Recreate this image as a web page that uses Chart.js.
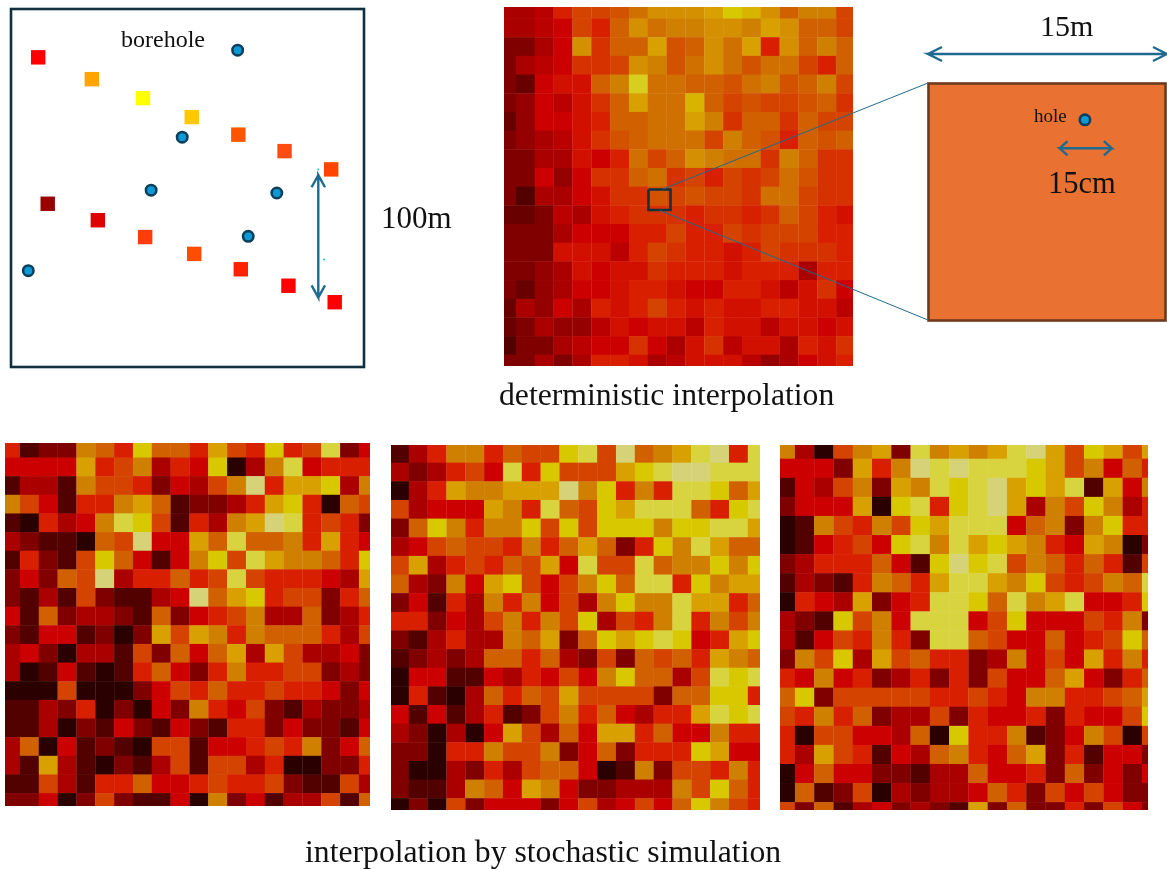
<!DOCTYPE html>
<html>
<head>
<meta charset="utf-8">
<style>
html,body{margin:0;padding:0;background:#fff;width:1167px;height:869px;overflow:hidden}
.c{position:absolute}
.t{position:absolute;font-family:"Liberation Serif",serif;line-height:1;white-space:nowrap;color:#111;z-index:5}
</style>
<script src="https://cdn.jsdelivr.net/npm/chart.js@4"></script>
</head>
<body>
<div class="t" style="left:121px;top:27px;font-size:24px">borehole</div>
<div class="t" style="left:381px;top:202px;font-size:31px">100m</div>
<div class="t" style="left:1040px;top:11px;font-size:30px">15m</div>
<div class="t" style="left:1048px;top:168px;font-size:30.5px">15cm</div>
<div class="t" style="left:1034px;top:106px;font-size:19px">hole</div>
<div class="t" style="left:499px;top:379px;font-size:31.7px">deterministic interpolation</div>
<div class="t" style="left:305px;top:836px;font-size:31.7px">interpolation by stochastic simulation</div>
<script>
const levelColors=['#2a0000','#520000','#800000','#aa0000','#cc0000','#d82000','#d44400','#d06000','#d08000','#d8a000','#d8c800','#d8d440','#d6d278'];

const detGrid=[
[3,3,3.5,5,6,6,6.5,7.5,8.5,8.5,8.5,9,10,9.5,8.5,7,8,8,6],
[3,3,3.5,4,6,5,7,8.5,7.5,8,8,8.5,8.5,8,9,8.5,7,7,6],
[2,2,3,4,8.5,5.5,7,7,9,6.5,7,8.5,7.5,9,5,8.5,7,8,7],
[2,3,3.5,4,5.5,5.5,6,8.5,8,6.5,7.5,8.5,7.5,6.5,7.5,7.5,6,5,7],
[2,1.5,4,4.5,4.5,7,8,10.5,7.5,7.5,7,7,6.5,7.5,8,6.5,7,8,6],
[2,2.5,4,3.5,4.5,5.5,7,9,7.5,7.5,9.5,7,6,6.5,6,6,6.5,7,5.5],
[1.5,2.5,4,4,4.5,5,7,7,7.5,7.5,9,8,5.5,7,7,5.5,7,6,6],
[2,2.5,3,3.5,4.5,5.5,6.5,7,7.5,7.5,7.5,6,8,7,6.5,5,7,6.5,7],
[2,2,3,3,4.5,4,5,7.5,6,7,8.5,8,7.5,7.5,5.5,8,7,5.5,5.5],
[2,2,4,2.5,4,5.5,5.5,7,7.5,5.5,6,5,6,5.5,6,7.5,6.5,5.5,5.5],
[2,1,3,3,4,4.5,5.5,5.5,6.5,6,6.5,6,6,5.5,7.5,7.5,6,5.5,5.5],
[1.5,1.5,2,3.5,3,4.5,5,5.5,5.5,5.5,5,5.5,5.5,5,5.5,7,6,5,4.5],
[2,2,2,3,4,4,4,5,5,6,5,5,6,5.5,6,6,6,5,5],
[2,2,2,4.5,4.5,4.5,3.5,5,6,5.5,5,5,4.5,5,6,5.5,5.5,5.5,5],
[2,2,2.5,3,4.5,4,4.5,4.5,5.5,5,5,5,4.5,5,5,5,3,5,5],
[2,1.5,2.5,3,4,4,4.5,5,5,4.5,4,4,5,5,4.5,3.5,4.5,5.5,4],
[1.5,3,2.5,4,3,5,4.5,5,6,5,4.5,5,4.5,4.5,5,5,4.5,4.5,3.5],
[1.5,2,3,2.5,2.5,3.5,4.5,4,4.5,4.5,3.5,5,4.5,4.5,3.5,4.5,4.5,4,4.5],
[1,2,2,3,3.5,4,4,5.5,4,3,4.5,5.5,3.5,4.5,4.5,3,5,4.5,5.5],
[2,2,3,2,3,5,5,4.5,3,3.5,4.5,4.5,4.5,3.5,2.5,3,4,4.5,5]];

const simGridA=[
[5,1,2,2,8,7,5,10,7,7,5,9,6,5,10,5,6,11,2,4],
[4,4,4,4,9,5,6,8,3,5,4,10,0,3,8,11,4,5,5,5],
[1,3,3,1,8,6,6,5,2,4,3,6,8,12,5,9,9,10,3,8],
[8,6,4,1,5,5,8,9,7,1,2,2,3,5,9,10,5,0,7,6],
[1,0,5,3,4,8,11,10,6,1,5,3,8,9,12,11,5,6,5,2],
[3,2,1,1,0,7,6,12,4,4,9,7,11,7,7,8,5,9,5,4],
[1,5,2,1,6,10,7,4,1,4,8,10,6,11,9,8,8,7,5,10],
[2,4,2,7,6,12,3,5,5,7,5,6,11,6,5,5,5,4,3,9],
[2,1,3,1,6,2,1,1,3,4,12,7,9,10,5,6,6,2,5,7],
[4,1,7,2,3,3,2,1,7,2,4,5,6,8,3,3,7,2,3,5],
[2,1,4,4,1,2,0,2,9,6,9,8,5,8,7,7,7,5,3,6],
[3,4,2,0,3,3,1,6,2,7,4,7,9,3,9,6,3,3,4,2],
[3,0,1,4,1,0,1,5,7,4,2,5,8,5,5,6,6,2,3,2],
[0,0,0,6,0,0,0,2,4,6,5,7,5,5,6,5,5,4,2,4],
[1,1,3,2,5,0,2,0,4,2,8,5,4,6,2,1,3,2,2,3],
[1,1,3,0,2,1,4,2,1,4,2,1,5,5,2,4,2,2,1,4],
[3,7,0,4,1,2,1,0,6,6,1,4,4,5,6,5,8,2,4,7],
[3,1,9,3,1,0,2,1,3,6,1,6,6,3,5,0,0,2,2,5],
[1,1,6,3,1,5,5,7,4,4,5,6,5,5,6,2,1,1,6,3],
[2,2,4,0,2,6,2,1,1,4,0,8,2,4,1,3,3,6,1,7]];

const simGridB=[
[1,3,5,8,8,5,7,6,6,10,11,6,12,7,8,9,11,12,5,11],
[3,2,3,5,6,4,11,5,10,6,6,6,9,10,11,12,12,11,11,11],
[0,3,5,9,8,8,9,9,9,12,8,10,5,8,5,11,11,10,7,9],
[6,3,4,4,4,9,8,5,11,7,6,10,9,11,11,11,7,5,10,11],
[2,7,10,8,5,8,8,10,6,10,6,10,10,10,8,10,10,11,11,9],
[3,4,6,7,6,6,5,8,5,7,9,7,2,5,10,8,11,9,7,7],
[6,9,3,5,6,5,7,6,9,4,11,6,6,11,7,8,8,10,8,10],
[7,3,2,8,4,9,10,6,4,6,8,10,7,11,11,5,10,8,9,9],
[2,4,1,5,3,8,5,8,4,6,3,8,10,8,8,11,9,9,5,7],
[5,5,2,4,3,6,8,5,8,6,10,3,6,5,8,11,5,8,6,8],
[2,1,3,5,3,3,8,7,9,2,7,10,9,10,11,10,4,5,9,10],
[1,2,3,2,3,7,7,5,7,3,2,6,2,7,6,7,5,9,8,7],
[0,4,4,1,1,4,3,5,4,6,4,8,10,7,7,3,6,11,10,11],
[0,5,1,0,3,7,5,7,6,9,6,6,6,6,2,7,7,10,10,5],
[4,1,4,1,3,5,1,2,6,8,5,7,4,3,5,5,9,11,10,11],
[3,2,0,3,0,4,9,6,3,7,4,9,9,5,7,4,4,8,5,5],
[2,2,0,5,5,8,6,6,8,2,4,7,2,5,5,5,10,9,4,4],
[2,0,0,3,2,5,3,6,7,7,4,0,1,8,2,6,6,5,8,5],
[2,1,1,3,8,7,4,9,8,4,2,2,3,3,3,8,6,10,7,5],
[0,2,0,6,2,4,4,4,2,4,6,3,4,6,4,7,10,8,6,5]];

const simGridC=[
[8,3,0,6,8,9,2,11,8,9,8,9,11,12,9,6,10,9,6,9],
[4,4,4,2,9,5,8,12,11,12,11,11,11,10,9,6,8,4,7,5],
[1,4,3,6,8,2,9,8,11,10,11,12,9,10,9,11,1,9,4,8],
[2,4,4,4,9,0,10,11,5,10,11,12,9,3,8,6,10,8,3,5],
[0,1,8,6,5,8,6,10,9,11,11,11,4,7,8,2,8,10,5,5],
[0,1,4,5,6,4,10,11,8,11,9,10,9,8,5,4,9,8,0,2],
[2,3,5,5,5,7,4,1,10,12,10,11,6,8,7,5,7,5,1,6],
[1,3,2,1,5,8,7,5,9,11,11,9,8,10,6,5,6,8,7,11],
[0,5,4,3,9,2,4,5,11,11,10,7,11,8,9,11,4,4,5,10],
[3,2,1,10,6,8,4,11,11,11,4,6,10,4,4,4,6,5,8,2],
[3,1,4,6,5,8,5,2,11,11,7,6,4,4,7,4,5,6,10,7],
[2,8,6,10,3,9,6,7,5,5,2,3,8,4,6,4,9,5,8,5],
[5,4,8,4,5,2,3,5,2,5,2,6,4,4,7,9,4,2,5,7],
[7,10,2,6,6,6,6,6,5,5,6,5,4,8,8,5,5,6,7,9],
[6,5,8,5,7,2,3,3,6,2,5,4,4,5,2,5,4,4,6,10],
[5,0,6,6,4,4,3,7,0,10,5,5,8,1,2,4,8,6,0,6],
[5,3,9,6,5,1,4,3,7,8,5,4,7,9,2,5,1,4,4,2],
[0,4,7,4,4,2,2,1,3,3,7,4,4,5,2,7,2,4,2,4],
[0,7,1,2,6,0,3,2,3,3,4,7,5,2,6,4,6,4,2,2],
[6,2,7,1,3,4,2,3,2,1,9,2,7,2,2,5,2,6,4,2]];

const sampleX=[7.7,22.9,37.4,51.2,64.4,77.5,90.7,10.4,24.6,38.0,51.9,65.1,78.6,91.7];
const sampleY=[86.5,80.4,75.1,69.8,64.9,60.3,55.2,45.6,41.0,36.3,31.6,27.3,22.7,18.1];
const sampleColors=['#ff0000','#ffa500','#ffff00','#ffc800','#ff5500','#ff4d12','#ff4500','#990000','#e00000','#ff3c0a','#ff4d00','#ff2200','#ff0000','#ff0000'];
const boreX=[64.2,48.5,39.7,75.3,67.2,4.9];
const boreY=[88.5,64.2,49.4,48.6,36.5,26.9];
const specX=[87.05,88.7];
const specY=[55.2,30];
const mapArrowX=[85.15,87.05,88.95,87.05,87.05,85.15,87.05,88.95];
const mapArrowY=[50.2,53.6,50.2,53.6,19.4,22.8,19.4,22.8];

const holeX=[9.9];
const holeY=[12.7];
const holeArrowX=[8.8,8.3,8.8,8.3,11.6,11.1,11.6,11.1];
const holeArrowY=[11.35,10.9,10.45,10.9,10.9,11.35,10.9,10.45];

const linkUpperX=[663,928];
const linkUpperY=[189,83];
const linkLowerX=[660,928];
const linkLowerY=[210.5,320];
const spanArrowX=[942,928,942,928,1167,1153,1167,1153];
const spanArrowY=[47,54,61,54,54,47,54,61];
const boxX=[648.5,670.5,670.5,648.5,648.5];
const boxY=[189.5,189.5,210,210,189.5];

function pts(xs,ys){return xs.map((x,i)=>({x:x,y:ys[i]}));}
function levelColor(v){
  const a=Math.floor(v),b=Math.ceil(v),t=v-a;
  const rgb=h=>[1,3,5].map(i=>parseInt(h.substr(i,2),16));
  const p=rgb(levelColors[a]),q=rgb(levelColors[b]);
  return 'rgb('+p.map((c,i)=>Math.round(c+(q[i]-c)*t)).join(',')+')';
}
function mount(l,t,w,h,z){
  const cv=document.createElement('canvas');
  cv.className='c';cv.width=w;cv.height=h;
  cv.style.cssText='left:'+l+'px;top:'+t+'px;width:'+w+'px;height:'+h+'px;z-index:'+z+';pointer-events:none';
  document.body.appendChild(cv);
  return cv.getContext('2d');
}
const frame={id:'frame',
  beforeDatasetsDraw(c,a,o){
    if(!o.stroke)return;
    const r=c.chartArea,g=c.ctx;
    g.save();
    if(o.fill){g.fillStyle=o.fill;g.fillRect(r.left,r.top,r.right-r.left,r.bottom-r.top);}
    g.strokeStyle=o.stroke;g.lineWidth=o.width;g.strokeRect(r.left,r.top,r.right-r.left,r.bottom-r.top);
    g.restore();
  }};
function baseOpts(xr,yr,rev,pad,fr){
  return {responsive:false,animation:false,events:[],devicePixelRatio:1,
    layout:{padding:pad,autoPadding:false},
    plugins:{legend:{display:false},tooltip:{enabled:false},frame:fr||{}},
    scales:{
      x:{type:'linear',display:false,min:xr[0],max:xr[1]},
      y:{type:'linear',display:false,reverse:rev,min:yr[0],max:yr[1]}
    }};
}
function heat(grid,l,t,w,h,xr,yr){
  const cells=[];
  grid.forEach((row,r)=>row.forEach((v,c)=>cells.push({x:c,y:r,v:v})));
  new Chart(mount(l,t,w,h,1),{type:'scatter',plugins:[frame],
    data:{datasets:[{data:cells,clip:false,pointStyle:'rect',borderWidth:0,
      backgroundColor:ctx=>levelColor(ctx.raw.v),
      pointRadius:ctx=>{
        const s=ctx.chart.scales;
        const d=Math.max(Math.abs(s.x.getPixelForValue(1)-s.x.getPixelForValue(0)),Math.abs(s.y.getPixelForValue(1)-s.y.getPixelForValue(0)));
        return d*Math.SQRT1_2+0.2;
      }}]},
    options:baseOpts(xr,yr,true,0)});
}
heat(detGrid,504,7,349,359,[-0.14,18.39],[-0.127,19.09]);
heat(simGridA,5,443,365,363,[-0.3,19.08],[-0.29,19.18]);
heat(simGridB,391,445,369,365,[-0.45,19.14],[-0.46,19.12]);
heat(simGridC,780,445,368,365,[-0.28,18.81],[-0.23,18.9]);

const lineDs=(xs,ys,color,w)=>({data:pts(xs,ys),showLine:true,pointRadius:0,borderColor:color,borderWidth:w,borderJoinStyle:'miter',clip:false});
const boreStyle={pointStyle:'circle',backgroundColor:'#0c9ad6',borderColor:'#0b3f5c',borderWidth:2.6,clip:false};

new Chart(mount(7,5,361,366,2),{type:'scatter',plugins:[frame],
  data:{datasets:[
    lineDs(mapArrowX,mapArrowY,'#1f6a8e',2.4),
    {data:pts(sampleX,sampleY),pointStyle:'rect',pointRadius:10.2,borderWidth:0,backgroundColor:sampleColors,clip:false},
    Object.assign({data:pts(boreX,boreY),pointRadius:5.2},boreStyle),
    {data:pts(specX,specY),pointRadius:1,borderWidth:0,backgroundColor:'#19c2a8',clip:false}
  ]},
  options:baseOpts([0,100],[0,100],false,4,{stroke:'#10303f',width:2.6})});

new Chart(mount(924,79,246,246,2),{type:'scatter',plugins:[frame],
  data:{datasets:[
    lineDs(holeArrowX,holeArrowY,'#1f6a8e',2.4),
    Object.assign({data:pts(holeX,holeY),pointRadius:5.2},boreStyle)
  ]},
  options:baseOpts([0,15],[0,15],false,4.5,{stroke:'#6f3a1c',fill:'#e97132',width:2.6})});

new Chart(mount(0,0,1167,869,3),{type:'scatter',
  data:{datasets:[
    lineDs(linkUpperX,linkUpperY,'#1f6a8e',1),
    lineDs(linkLowerX,linkLowerY,'#1f6a8e',1),
    lineDs(spanArrowX,spanArrowY,'#1f6a8e',2.4),
    lineDs(boxX,boxY,'#12303f',2.6)
  ]},
  options:baseOpts([0,1167],[0,869],true,0)});
</script>
</body>
</html>
